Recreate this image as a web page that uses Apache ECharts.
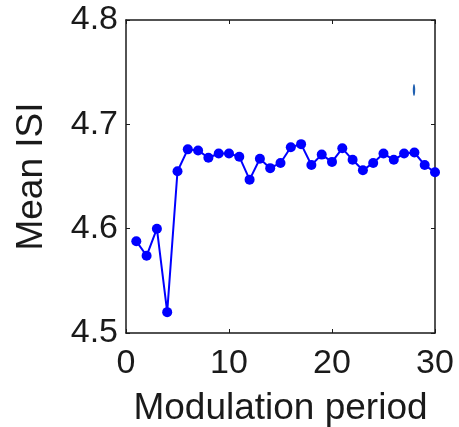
<!DOCTYPE html>
<html>
<head>
<meta charset="utf-8">
<script src="https://cdn.jsdelivr.net/npm/echarts@6/dist/echarts.min.js"></script>
<style>
  html, body { margin: 0; padding: 0; background: #fff; }
  #chart { width: 459px; height: 427px; }
</style>
</head>
<body>
<div id="chart"></div>
<script>
  // modulation period (x) and mean ISI (y)
  var periods = [1, 2, 3, 4, 5, 6, 7, 8, 9, 10, 11, 12, 13, 14, 15,
    16, 17, 18, 19, 20, 21, 22, 23, 24, 25, 26, 27, 28, 29, 30];
  var meanIsi = [4.588, 4.574, 4.600, 4.520, 4.655, 4.676, 4.675, 4.668, 4.672, 4.672,
    4.669, 4.647, 4.667, 4.658, 4.663, 4.678, 4.681, 4.661, 4.671, 4.664,
    4.677, 4.666, 4.656, 4.663, 4.672, 4.666, 4.672, 4.673, 4.661, 4.654];
  var xRange = [0, 30, 10];
  var yRange = [4.5, 4.8, 0.1];

  var font = 'Liberation Sans, Arial, sans-serif';
  var ink = '#1a1a1a';

  function makeAxis(pos, range, opts) {
    var isX = pos === 'bottom' || pos === 'top';
    var main = pos === 'bottom' || pos === 'left';
    var axis = {
      type: 'value',
      position: pos,
      min: range[0],
      max: range[1],
      interval: range[2],
      splitLine: { show: false },
      axisLine: { show: true, onZero: false, lineStyle: { color: ink, width: 1.5 } },
      axisTick: { show: true, inside: true, length: 4, lineStyle: { color: ink, width: 1 } },
      axisLabel: {
        show: main,
        color: ink,
        fontFamily: font,
        fontSize: 34,
        margin: isX ? 14 : 8,
        formatter: function (v) { return isX ? String(v) : v.toFixed(1); }
      }
    };
    return Object.assign(axis, opts || {});
  }

  var chart = echarts.init(document.getElementById('chart'), null, { renderer: 'canvas' });
  chart.setOption({
    animation: false,
    backgroundColor: '#fff',
    grid: { left: 126, top: 20, right: 24, bottom: 94, outerBoundsMode: 'none' },
    xAxis: [
      makeAxis('bottom', xRange, {
        name: 'Modulation period',
        nameLocation: 'middle',
        nameGap: 57,
        nameTextStyle: { color: ink, fontFamily: font, fontSize: 37 }
      }),
      makeAxis('top', xRange)
    ],
    yAxis: [
      makeAxis('left', yRange, {
        name: 'Mean ISI',
        nameLocation: 'middle',
        nameGap: 76,
        nameTextStyle: { color: ink, fontFamily: font, fontSize: 37 }
      }),
      makeAxis('right', yRange)
    ],
    series: [{
      type: 'line',
      xAxisIndex: 0,
      yAxisIndex: 0,
      data: periods.map(function (p, i) { return [p, meanIsi[i]]; }),
      symbol: 'circle',
      symbolSize: 10,
      showSymbol: true,
      lineStyle: { color: '#0000ff', width: 2 },
      itemStyle: { color: '#0000ff' }
    }],
    graphic: [{
      // small stray blue mark seen in the original figure
      type: 'ellipse',
      shape: { cx: 414, cy: 90, rx: 1.2, ry: 6 },
      style: { fill: '#1f5fb0' }
    }]
  });
</script>
</body>
</html>
